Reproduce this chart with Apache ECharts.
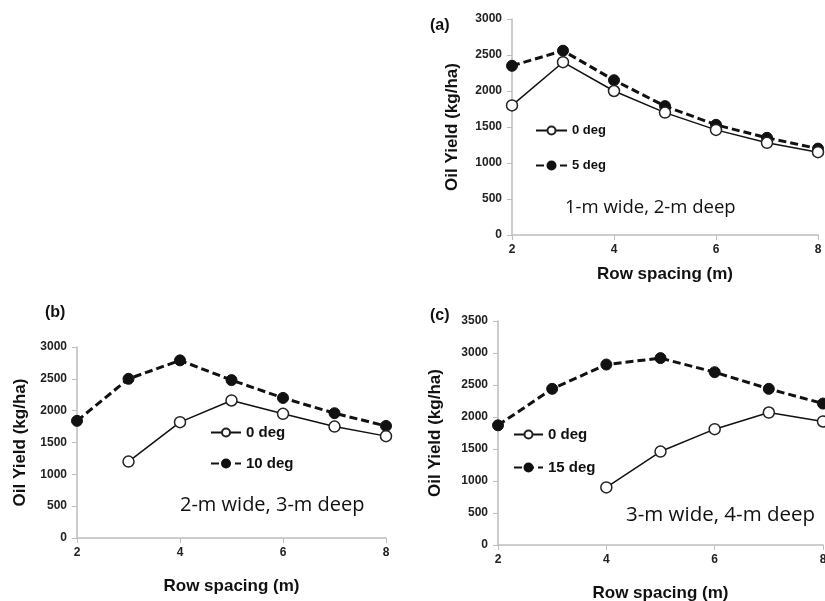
<!DOCTYPE html>
<html>
<head>
<meta charset="utf-8">
<script src="https://cdn.jsdelivr.net/npm/echarts@6/dist/echarts.min.js"></script>
<style>
  html, body { margin: 0; padding: 0; background: #fff; }
  #chart { width: 825px; height: 601px; }
</style>
</head>
<body>
<div id="chart"></div>
<script>
const rowSpacing = [2, 3, 4, 5, 6, 7, 8];

// panel (a) 1-m wide, 2-m deep
const aZero = [1800, 2400, 2000, 1700, 1460, 1280, 1150];
const aTilt = [2350, 2560, 2150, 1790, 1530, 1350, 1200];
// panel (b) 2-m wide, 3-m deep
const bZero = [null, 1200, 1820, 2160, 1950, 1750, 1600];
const bTilt = [1840, 2500, 2790, 2480, 2200, 1960, 1760];
// panel (c) 3-m wide, 4-m deep
const cZero = [null, null, 900, 1460, 1810, 2070, 1930];
const cTilt = [1870, 2440, 2820, 2920, 2700, 2440, 2210];

const panelLabels = ['(a)', '(b)', '(c)'];
const notes = ['1-m wide, 2-m deep', '2-m wide, 3-m deep', '3-m wide, 4-m deep'];
const tiltNames = ['5 deg', '10 deg', '15 deg'];
const yMax = [3000, 3000, 3500];

const pairs = (ys) => rowSpacing.map((x, i) => [x, ys[i]]).filter(p => p[1] != null);

const axisGray = '#bdbdbd';
const labelFont = { fontFamily: 'Liberation Sans', fontWeight: 'bold', fontSize: 12, color: '#222' };
const titleFont = { fontFamily: 'Liberation Sans', fontWeight: 'bold', fontSize: 17, color: '#111' };

const grids = [
  { left: 512, top: 19, width: 306, height: 216 },
  { left: 77, top: 347, width: 309, height: 191 },
  { left: 498, top: 321, width: 325, height: 224 },
].map(g => ({ ...g, outerBoundsMode: 'none', containLabel: false }));
const yNameGap = [51, 48, 54];
const xNameGap = [31, 40, 40];

const xAxes = grids.map((g, i) => ({
  type: 'value', gridIndex: i, min: 2, max: 8, interval: 2,
  name: 'Row spacing (m)', nameLocation: 'middle', nameGap: xNameGap[i],
  nameTextStyle: titleFont,
  axisLine: { lineStyle: { color: axisGray, width: 1.5 } },
  axisTick: { show: true, length: 5, lineStyle: { color: axisGray } },
  axisLabel: { ...labelFont, margin: 9 },
  splitLine: { show: false },
}));

const yAxes = grids.map((g, i) => ({
  type: 'value', gridIndex: i, min: 0, max: yMax[i], interval: 500,
  name: 'Oil Yield (kg/ha)', nameLocation: 'middle', nameGap: yNameGap[i],
  nameTextStyle: titleFont,
  axisLine: { show: true, lineStyle: { color: axisGray, width: 1.5 } },
  axisTick: { show: true, length: 5, lineStyle: { color: axisGray } },
  axisLabel: { ...labelFont, margin: 10, formatter: v => String(v) },
  splitLine: { show: false },
}));

const zeroSeries = (data, i) => ({
  name: '0 deg', type: 'line', xAxisIndex: i, yAxisIndex: i,
  data: pairs(data), symbol: 'circle', symbolSize: 11,
  lineStyle: { color: '#111', width: 1.5, type: 'solid' },
  itemStyle: { color: '#fff', borderColor: '#222', borderWidth: 1.5 },
  z: 3,
});
const tiltSeries = (data, i) => ({
  name: tiltNames[i], type: 'line', xAxisIndex: i, yAxisIndex: i,
  data: pairs(data), symbol: 'circle', symbolSize: 11,
  lineStyle: { color: '#111', width: 3, type: [8, 4] },
  itemStyle: { color: '#111', borderColor: '#111', borderWidth: 1 },
  z: 2,
});

const legendPos = [
  { left: 533, top: 122, gap: 22, size: 13, w: 31 },
  { left: 208, top: 423, gap: 16, size: 15, w: 30 },
  { left: 511, top: 425, gap: 18, size: 15, w: 29 },
];
const legends = legendPos.map((p, i) => ({
  data: ['0 deg', tiltNames[i]],
  orient: 'vertical', left: p.left, top: p.top, itemGap: p.gap,
  itemWidth: p.w, itemHeight: 10, padding: 2,
  textStyle: { fontFamily: 'Liberation Sans', fontWeight: 'bold', fontSize: p.size, color: '#111' },
}));

const labelPos = [[425, 13], [40, 300], [425, 303]];
const notePos = [[560, 193], [175, 490], [621, 500]];
const noteSize = [18.5, 20, 20.5];

const titles = [];
panelLabels.forEach((t, i) => titles.push({
  text: t, left: labelPos[i][0], top: labelPos[i][1],
  textStyle: { fontFamily: 'Liberation Sans', fontWeight: 'bold', fontSize: 16, color: '#111' },
}));
notes.forEach((t, i) => titles.push({
  text: t, left: notePos[i][0], top: notePos[i][1],
  textStyle: { fontFamily: 'Open Sans', fontWeight: 'normal', fontSize: noteSize[i], color: '#111' },
}));

const chart = echarts.init(document.getElementById('chart'));
chart.setOption({
  animation: false,
  backgroundColor: '#fff',
  title: titles,
  legend: legends,
  grid: grids,
  xAxis: xAxes,
  yAxis: yAxes,
  series: [
    zeroSeries(aZero, 0), tiltSeries(aTilt, 0),
    zeroSeries(bZero, 1), tiltSeries(bTilt, 1),
    zeroSeries(cZero, 2), tiltSeries(cTilt, 2),
  ],
});
</script>
</body>
</html>
